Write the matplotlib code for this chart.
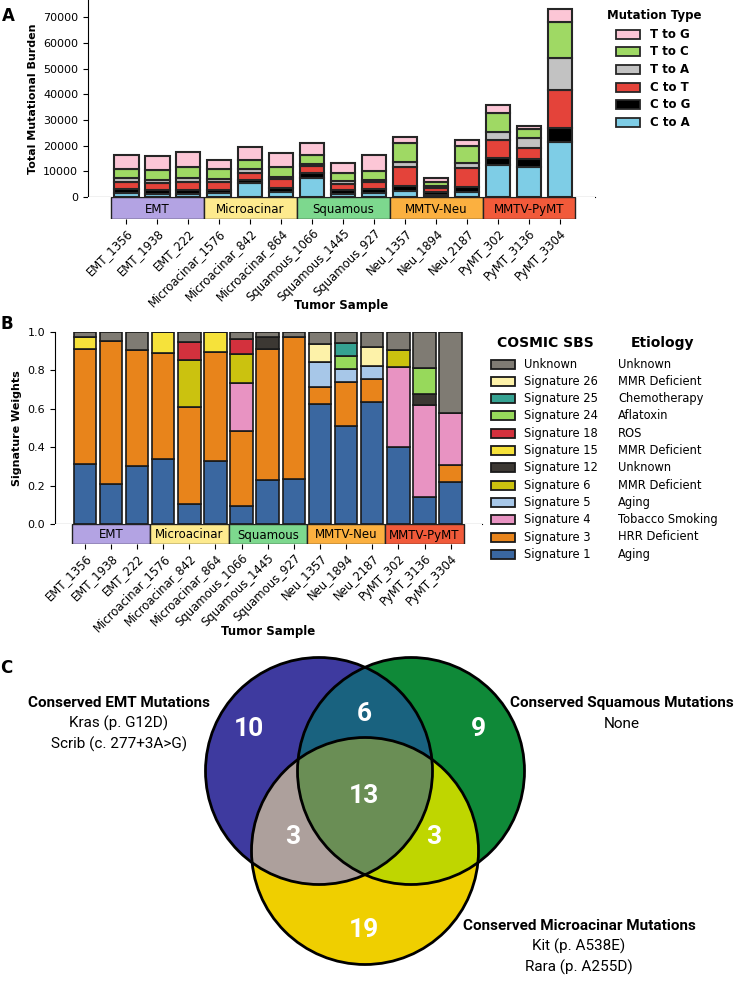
import numpy as np
import matplotlib
matplotlib.use('Agg')
import matplotlib.pyplot as plt
from matplotlib.patches import Rectangle, Circle

W, H = 741, 992

samples = ['EMT_1356', 'EMT_1938', 'EMT_222', 'Microacinar_1576', 'Microacinar_842',
           'Microacinar_864', 'Squamous_1066', 'Squamous_1445', 'Squamous_927',
           'Neu_1357', 'Neu_1894', 'Neu_2187', 'PyMT_302', 'PyMT_3136', 'PyMT_3304']
groups = ['EMT', 'Microacinar', 'Squamous', 'MMTV-Neu', 'MMTV-PyMT']
group_sizes = [3, 3, 3, 3, 3]
group_colors = ['#b3a3e3', '#fdea8e', '#7dd88e', '#fbb040', '#f15a3a']

# panel A: mutation counts (stack order bottom -> top)
mut_types = ['C to A', 'C to G', 'C to T', 'T to A', 'T to C', 'T to G']
mut_colors = ['#7ecde6', '#000000', '#e4433a', '#c2c2c2', '#9fd964', '#fcc6d6']
c_to_a = [1700, 1000, 1000, 1500, 5300, 1800, 7300, 1000, 1400, 2300, 600, 2100, 12500, 11800, 21300]
c_to_g = [1300, 1700, 1800, 1300, 1300, 1800, 1900, 1700, 1600, 2100, 1200, 1900, 2600, 2900, 5700]
c_to_t = [3000, 2600, 3200, 3200, 2900, 3300, 2900, 2200, 3000, 7400, 1800, 7200, 7100, 4500, 14900]
t_to_a = [1300, 1300, 1300, 1000, 1300, 800, 800, 1300, 600, 2000, 700, 1900, 3000, 3900, 12400]
t_to_c = [3600, 3900, 4300, 3800, 3600, 4100, 3500, 3300, 3700, 7100, 1700, 6800, 7400, 3400, 14000]
t_to_g = [5500, 5600, 5900, 3700, 5200, 5200, 4500, 3900, 5900, 2600, 1300, 2300, 3100, 1200, 4800]
mut_values = [c_to_a, c_to_g, c_to_t, t_to_a, t_to_c, t_to_g]

# panel B: signature weights (stack order bottom -> top)
sig_names = ['Signature 1', 'Signature 3', 'Signature 4', 'Signature 5', 'Signature 6',
             'Signature 12', 'Signature 15', 'Signature 18', 'Signature 24', 'Signature 25',
             'Signature 26', 'Unknown']
etiology = ['Aging', 'HRR Deficient', 'Tobacco Smoking', 'Aging', 'MMR Deficient', 'Unknown',
            'MMR Deficient', 'ROS', 'Aflatoxin', 'Chemotherapy', 'MMR Deficient', 'Unknown']
sig_colors = ['#3a67a0', '#e8841b', '#e893c2', '#a7c7e8', '#cbc20f', '#3c3833',
              '#f6e23a', '#d3313d', '#97d95b', '#35a292', '#fdf2a9', '#7f7b73']
sig1 = [0.31, 0.21, 0.30, 0.34, 0.105, 0.33, 0.095, 0.23, 0.235, 0.625, 0.51, 0.633, 0.40, 0.142, 0.22]
sig3 = [0.60, 0.74, 0.605, 0.55, 0.505, 0.565, 0.39, 0.678, 0.736, 0.09, 0.227, 0.123, 0, 0, 0.087]
sig4 = [0, 0, 0, 0, 0, 0, 0.25, 0, 0, 0, 0, 0, 0.415, 0.475, 0.268]
sig5 = [0, 0, 0, 0, 0, 0, 0, 0, 0, 0.13, 0.071, 0.065, 0, 0, 0]
sig6 = [0, 0, 0, 0, 0.243, 0, 0.15, 0, 0, 0, 0, 0, 0.088, 0, 0]
sig12 = [0, 0, 0, 0, 0, 0, 0, 0.064, 0, 0, 0, 0, 0, 0.06, 0]
sig15 = [0.061, 0, 0, 0.11, 0, 0.105, 0, 0, 0, 0, 0, 0, 0, 0, 0]
sig18 = [0, 0, 0, 0, 0.092, 0, 0.078, 0, 0, 0, 0, 0, 0, 0, 0]
sig24 = [0, 0, 0, 0, 0, 0, 0, 0, 0, 0, 0.065, 0, 0, 0.132, 0]
sig25 = [0, 0, 0, 0, 0, 0, 0, 0, 0, 0, 0.066, 0, 0, 0, 0]
sig26 = [0, 0, 0, 0, 0, 0, 0, 0, 0, 0.09, 0, 0.101, 0, 0, 0]
sig_unknown = [0.029, 0.05, 0.095, 0, 0.055, 0, 0.037, 0.028, 0.029, 0.065, 0.061, 0.078, 0.097, 0.191, 0.425]
sig_values = [sig1, sig3, sig4, sig5, sig6, sig12, sig15, sig18, sig24, sig25, sig26, sig_unknown]

# panel C: venn counts
venn_counts = [10, 6, 9, 13, 3, 3, 19]   # EMT, EMT&Sq, Sq, all, EMT&Mic, Sq&Mic, Mic
venn_titles = ['Conserved EMT Mutations', 'Conserved Squamous Mutations',
               'Conserved Microacinar Mutations']
venn_notes = [['Kras (p. G12D)', 'Scrib (c. 277+3A>G)'], ['None'],
              ['Kit (p. A538E)', 'Rara (p. A255D)']]

plt.rcParams['font.family'] = ['DejaVu Sans']


def px_rect(l, t, r, b):
    return [l / W, 1 - b / H, (r - l) / W, (b - t) / H]


def group_band(ax, xlim):
    starts = np.cumsum([0] + group_sizes[:-1]) - 0.5
    centers = starts + np.array(group_sizes) / 2
    ax.bar(centers, 1, width=group_sizes, color=group_colors, edgecolor='#222222', linewidth=1)
    for c, g in zip(centers, groups):
        ax.text(c, 0.45, g, ha='center', va='center', fontsize=8.5)
    ax.set_xlim(*xlim)
    ax.set_ylim(0, 1)
    for s in ax.spines.values():
        s.set_visible(False)
    ax.set_yticks([])
    ax.set_xticks(np.arange(len(samples)))
    ax.set_xticklabels(samples, rotation=45, ha='right', rotation_mode='anchor', fontsize=8.4)
    ax.tick_params(axis='x', length=3.5, pad=2)


fig = plt.figure(figsize=(W / 100, H / 100), dpi=100)
x = np.arange(len(samples))

# ---------- A ----------
xlimA = (-1.23, 15.13)
axA = fig.add_axes(px_rect(88, 0, 595, 197))
bottom = np.zeros(len(samples))
for vals, col in zip(mut_values, mut_colors):
    axA.bar(x, vals, bottom=bottom, width=0.8, color=col, edgecolor='#262626', linewidth=1.5)
    bottom += np.array(vals)
axA.set_xlim(*xlimA)
axA.set_ylim(0, 76800)
axA.set_yticks(range(0, 70001, 10000))
axA.set_xticks([])
axA.tick_params(axis='y', labelsize=8, length=3.5)
axA.spines['top'].set_visible(False)
axA.spines['right'].set_visible(False)
axA.set_ylabel('Total Mutational Burden', fontsize=8, fontweight='bold')

bandA = fig.add_axes(px_rect(88, 197, 595, 219))
group_band(bandA, xlimA)

# ---------- B ----------
xlimB = (-1.14, 15.2)
axB = fig.add_axes(px_rect(55, 331.7, 482, 524))
bottom = np.zeros(len(samples))
for vals, col in zip(sig_values, sig_colors):
    axB.bar(x, vals, bottom=bottom, width=0.86, color=col, edgecolor='#1a1a1a', linewidth=1.2)
    bottom += np.array(vals)
axB.set_xlim(*xlimB)
axB.set_ylim(0, 1)
axB.set_yticks(np.arange(0, 1.01, 0.2))
axB.set_yticklabels([f'{v:.1f}' for v in np.arange(0, 1.01, 0.2)])
axB.set_xticks([])
axB.tick_params(axis='y', labelsize=8, length=3.5)
axB.spines['top'].set_visible(False)
axB.spines['right'].set_visible(False)
axB.set_ylabel('Signature Weights', fontsize=8, fontweight='bold')

bandB = fig.add_axes(px_rect(55, 524, 482, 544))
group_band(bandB, xlimB)

# ---------- overlay in pixel coords ----------
ov = fig.add_axes([0, 0, 1, 1])
ov.set_xlim(0, W)
ov.set_ylim(H, 0)
ov.axis('off')

ov.text(341, 306, 'Tumor Sample', ha='center', va='center', fontsize=8.5, fontweight='bold')
ov.text(268, 632, 'Tumor Sample', ha='center', va='center', fontsize=8.5, fontweight='bold')
for lbl, (lx, ly) in zip(['A', 'B', 'C'], [(2, 16), (1, 324), (0, 668)]):
    ov.text(lx, ly, lbl, ha='left', va='center', fontsize=12, fontweight='bold')

# legend A
ov.text(607, 16, 'Mutation Type', ha='left', va='center', fontsize=8.5, fontweight='bold')
for i, (name, col) in enumerate(zip(mut_types[::-1], mut_colors[::-1])):
    yy = 34 + i * 17.7
    ov.add_patch(Rectangle((616, yy - 4.5), 24, 9, facecolor=col, edgecolor='#262626', lw=1.3))
    ov.text(650, yy, name, ha='left', va='center', fontsize=8.5, fontweight='bold')

# legend B
ov.text(545, 343, 'COSMIC SBS', ha='center', va='center', fontsize=10, fontweight='bold')
ov.text(662, 343, 'Etiology', ha='center', va='center', fontsize=10, fontweight='bold')
for i, (name, eti, col) in enumerate(zip(sig_names[::-1], etiology[::-1], sig_colors[::-1])):
    yy = 364 + i * 17.3
    ov.add_patch(Rectangle((491, yy - 4.5), 24, 9, facecolor=col, edgecolor='#1a1a1a', lw=1.3))
    ov.text(524, yy, name, ha='left', va='center', fontsize=8.3)
    ov.text(618, yy, eti, ha='left', va='center', fontsize=8.3)

# ---------- C: venn ----------
r = 113.5
centers = {'EMT': (319, 771), 'Sq': (411, 771), 'Mic': (365, 851)}
xs = np.arange(190, 540, 0.5)
ys = np.arange(650, 980, 0.5)
gx, gy = np.meshgrid(xs, ys)
inA = (gx - centers['EMT'][0]) ** 2 + (gy - centers['EMT'][1]) ** 2 <= r ** 2
inB = (gx - centers['Sq'][0]) ** 2 + (gy - centers['Sq'][1]) ** 2 <= r ** 2
inC = (gx - centers['Mic'][0]) ** 2 + (gy - centers['Mic'][1]) ** 2 <= r ** 2
region_colors = [
    (inA & ~inB & ~inC, '#3e3a9f'),
    (inA & inB & ~inC, '#19627f'),
    (~inA & inB & ~inC, '#0f8938'),
    (inA & inB & inC, '#6a8e55'),
    (inA & ~inB & inC, '#ada09c'),
    (~inA & inB & inC, '#bfd600'),
    (~inA & ~inB & inC, '#efcf00'),
]
img = np.zeros(gx.shape + (4,))
for mask, col in region_colors:
    img[mask] = matplotlib.colors.to_rgba(col)
ov.imshow(img, extent=(xs[0], xs[-1] + 0.5, ys[-1] + 0.5, ys[0]), origin='upper',
          interpolation='nearest', aspect='auto', zorder=1)
for c in centers.values():
    ov.add_patch(Circle(c, r, fill=False, edgecolor='black', lw=2, zorder=2))

narrow = ['Roboto', 'DejaVu Sans']
count_pos = [(249, 729), (364, 714), (478, 729), (364, 796), (293, 837), (434, 837), (364, 930)]
for cnt, (cx, cy) in zip(venn_counts, count_pos):
    ov.text(cx, cy, str(cnt), ha='center', va='center', color='white', fontsize=19,
            fontweight='bold', family=narrow, zorder=3)

title_pos = [(119, 703), (622, 703), (579, 926)]
for title, notes, (tx, ty) in zip(venn_titles, venn_notes, title_pos):
    ov.text(tx, ty, title, ha='center', va='center', fontsize=11, fontweight='bold',
            family=narrow)
    for j, note in enumerate(notes):
        ov.text(tx, ty + 20.5 * (j + 1), note, ha='center', va='center', fontsize=11,
                family=narrow)

fig.savefig('out.png', dpi=100)
